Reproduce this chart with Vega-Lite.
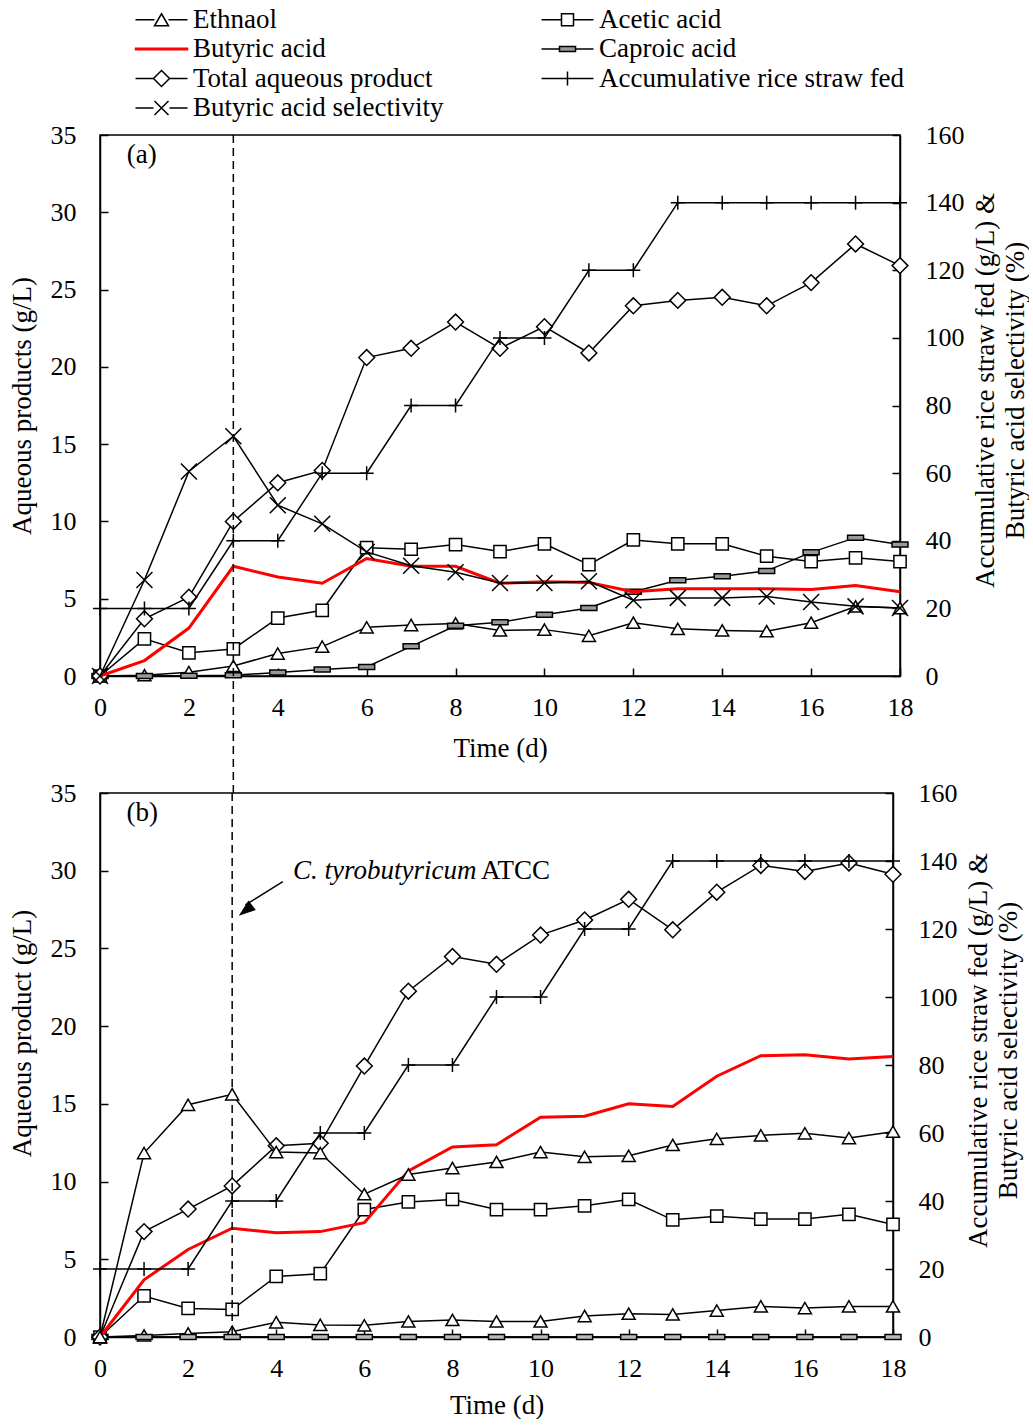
{
"$schema": "https://vega.github.io/schema/vega-lite/v6.json",
"background": "white",
"padding": {"left": 7, "top": 6, "right": 0, "bottom": 0},
"spacing": 117,
"bounds": "flush",
"config": {
  "font": "Liberation Serif",
  "view": {"stroke": "black", "strokeWidth": 1.5},
  "axis": {"labelFont": "Liberation Serif", "labelFontSize": 26, "labelColor": "black", "titleFont": "Liberation Serif", "titleFontSize": 27, "titleFontWeight": "normal", "titleColor": "black", "domainColor": "black", "domainWidth": 1.5, "tickColor": "black", "tickWidth": 1.5, "tickSize": -8, "grid": false, "labelFlush": false, "labelOverlap": false, "titleLineHeight": 30}
},
"datasets": {
  "a": [
    {"day":0,"Eth":0,"Ace":0,"But":0,"Cap":0,"Tot":0,"Straw":20,"Sel":0},
    {"day":1,"Eth":0.05,"Ace":2.4,"But":1.0,"Cap":0,"Tot":3.7,"Straw":20,"Sel":28.4},
    {"day":2,"Eth":0.25,"Ace":1.5,"But":3.1,"Cap":0.02,"Tot":5.1,"Straw":20,"Sel":60.5},
    {"day":3,"Eth":0.65,"Ace":1.75,"But":7.1,"Cap":0.05,"Tot":10.0,"Straw":40,"Sel":70.9},
    {"day":4,"Eth":1.45,"Ace":3.75,"But":6.4,"Cap":0.23,"Tot":12.5,"Straw":40,"Sel":50.5},
    {"day":5,"Eth":1.9,"Ace":4.25,"But":6.0,"Cap":0.42,"Tot":13.3,"Straw":60,"Sel":45.0},
    {"day":6,"Eth":3.15,"Ace":8.3,"But":7.6,"Cap":0.58,"Tot":20.6,"Straw":60,"Sel":36.7},
    {"day":7,"Eth":3.3,"Ace":8.2,"But":7.1,"Cap":1.92,"Tot":21.2,"Straw":80,"Sel":32.6},
    {"day":8,"Eth":3.4,"Ace":8.5,"But":7.1,"Cap":3.25,"Tot":22.9,"Straw":80,"Sel":30.7},
    {"day":9,"Eth":2.95,"Ace":8.05,"But":6.0,"Cap":3.47,"Tot":21.2,"Straw":100,"Sel":27.5},
    {"day":10,"Eth":3.0,"Ace":8.55,"But":6.1,"Cap":3.97,"Tot":22.6,"Straw":100,"Sel":27.5},
    {"day":11,"Eth":2.6,"Ace":7.2,"But":6.05,"Cap":4.4,"Tot":20.9,"Straw":120,"Sel":28.0},
    {"day":12,"Eth":3.45,"Ace":8.8,"But":5.45,"Cap":5.45,"Tot":23.95,"Straw":120,"Sel":22.4},
    {"day":13,"Eth":3.05,"Ace":8.55,"But":5.65,"Cap":6.2,"Tot":24.3,"Straw":140,"Sel":23.1},
    {"day":14,"Eth":2.95,"Ace":8.55,"But":5.65,"Cap":6.45,"Tot":24.5,"Straw":140,"Sel":23.1},
    {"day":15,"Eth":2.9,"Ace":7.75,"But":5.65,"Cap":6.8,"Tot":23.95,"Straw":140,"Sel":23.5},
    {"day":16,"Eth":3.45,"Ace":7.4,"But":5.6,"Cap":8.0,"Tot":25.45,"Straw":140,"Sel":21.9},
    {"day":17,"Eth":4.5,"Ace":7.65,"But":5.85,"Cap":8.95,"Tot":27.95,"Straw":140,"Sel":20.6},
    {"day":18,"Eth":4.4,"Ace":7.4,"But":5.45,"Cap":8.5,"Tot":26.55,"Straw":140,"Sel":20.1}
  ],
  "b": [
    {"day":0,"Eth":0,"Ace":0,"But":0,"Cap":0,"Tot":0,"Straw":20,"Sel":0},
    {"day":1,"Eth":0.1,"Ace":2.64,"But":3.68,"Cap":0,"Tot":6.78,"Straw":20,"Sel":54.1},
    {"day":2,"Eth":0.23,"Ace":1.84,"But":5.63,"Cap":0,"Tot":8.23,"Straw":20,"Sel":68.3},
    {"day":3,"Eth":0.34,"Ace":1.77,"But":7.0,"Cap":0,"Tot":9.72,"Straw":40,"Sel":71.4},
    {"day":4,"Eth":0.95,"Ace":3.9,"But":6.71,"Cap":0,"Tot":12.3,"Straw":40,"Sel":54.4},
    {"day":5,"Eth":0.78,"Ace":4.07,"But":6.78,"Cap":0,"Tot":12.46,"Straw":60,"Sel":54.1},
    {"day":6,"Eth":0.75,"Ace":8.2,"But":7.36,"Cap":0,"Tot":17.43,"Straw":60,"Sel":42.0},
    {"day":7,"Eth":1.0,"Ace":8.69,"But":10.69,"Cap":0,"Tot":22.25,"Straw":80,"Sel":47.8},
    {"day":8,"Eth":1.1,"Ace":8.85,"But":12.23,"Cap":0,"Tot":24.48,"Straw":80,"Sel":49.7},
    {"day":9,"Eth":1.0,"Ace":8.2,"But":12.37,"Cap":0,"Tot":23.98,"Straw":100,"Sel":51.5},
    {"day":10,"Eth":1.0,"Ace":8.2,"But":14.14,"Cap":0,"Tot":25.86,"Straw":100,"Sel":54.4},
    {"day":11,"Eth":1.35,"Ace":8.44,"But":14.2,"Cap":0,"Tot":26.83,"Straw":120,"Sel":53.0},
    {"day":12,"Eth":1.5,"Ace":8.85,"But":15.0,"Cap":0,"Tot":28.16,"Straw":120,"Sel":53.3},
    {"day":13,"Eth":1.45,"Ace":7.54,"But":14.83,"Cap":0,"Tot":26.2,"Straw":140,"Sel":56.5},
    {"day":14,"Eth":1.7,"Ace":7.77,"But":16.78,"Cap":0,"Tot":28.62,"Straw":140,"Sel":58.3},
    {"day":15,"Eth":1.97,"Ace":7.59,"But":18.1,"Cap":0,"Tot":30.34,"Straw":140,"Sel":59.3},
    {"day":16,"Eth":1.86,"Ace":7.59,"But":18.16,"Cap":0,"Tot":29.95,"Straw":140,"Sel":59.9},
    {"day":17,"Eth":1.97,"Ace":7.89,"But":17.89,"Cap":0,"Tot":30.5,"Straw":140,"Sel":58.5},
    {"day":18,"Eth":1.97,"Ace":7.24,"But":18.05,"Cap":0,"Tot":29.77,"Straw":140,"Sel":60.4}
  ]
},
"vconcat": [
  {
    "width": 800, "height": 541,
    "data": {"name": "a"},
    "layer": [
      {
        "layer": [
          {"mark": {"type": "line", "color": "black", "strokeWidth": 1.5, "point": {"shape": "triangle-up", "size": 170, "filled": true, "fill": "white", "stroke": "black", "strokeWidth": 1.5}},
           "encoding": {"x": {"field": "day", "type": "quantitative", "scale": {"domain": [0, 18], "nice": false}, "axis": {"values": [0,2,4,6,8,10,12,14,16,18], "title": "Time (d)", "labelPadding": 26, "titlePadding": 15}},
                        "y": {"field": "Eth", "type": "quantitative", "scale": {"domain": [0, 35], "nice": false}, "axis": {"values": [0,5,10,15,20,25,30,35], "title": "Aqueous products (g/L)", "labelPadding": 32, "titlePadding": 14}}}},
          {"mark": {"type": "line", "color": "black", "strokeWidth": 1.5, "point": {"shape": "square", "size": 150, "filled": true, "fill": "white", "stroke": "black", "strokeWidth": 1.5}},
           "encoding": {"x": {"field": "day", "type": "quantitative"}, "y": {"field": "Ace", "type": "quantitative"}}},
          {"mark": {"type": "line", "color": "black", "strokeWidth": 1.5, "point": {"shape": "M-8,-2.5H8V2.5H-8Z", "size": 4, "filled": true, "fill": "#999999", "stroke": "black", "strokeWidth": 1.5}},
           "encoding": {"x": {"field": "day", "type": "quantitative"}, "y": {"field": "Cap", "type": "quantitative"}}},
          {"mark": {"type": "line", "color": "black", "strokeWidth": 1.5, "point": {"shape": "diamond", "size": 250, "filled": true, "fill": "white", "stroke": "black", "strokeWidth": 1.5}},
           "encoding": {"x": {"field": "day", "type": "quantitative"}, "y": {"field": "Tot", "type": "quantitative"}}},
          {"mark": {"type": "line", "color": "#ff0000", "strokeWidth": 3},
           "encoding": {"x": {"field": "day", "type": "quantitative"}, "y": {"field": "But", "type": "quantitative"}}},
          {"data": {"values": [{"note": "inoculation"}]},
           "mark": {"type": "rule", "color": "black", "strokeWidth": 1.5, "strokeDash": [8, 5]},
           "encoding": {"x": {"datum": 3, "type": "quantitative"}, "y": {"datum": 35, "type": "quantitative"}, "y2": {"datum": -7.6}}},
          {"data": {"values": [{"note": "panel"}]},
           "mark": {"type": "text", "align": "left", "baseline": "middle", "font": "Liberation Serif", "fontSize": 27, "color": "black"},
           "encoding": {"x": {"datum": 0.6, "type": "quantitative"}, "y": {"datum": 33.7, "type": "quantitative"}, "text": {"value": "(a)"}}}
        ]
      },
      {
        "layer": [
          {"mark": {"type": "line", "color": "black", "strokeWidth": 1.5, "point": {"shape": "M-7,0H7M0,-7V7", "size": 4, "filled": false, "stroke": "black", "strokeWidth": 1.5}},
           "encoding": {"x": {"field": "day", "type": "quantitative"}, "y": {"field": "Straw", "type": "quantitative", "scale": {"domain": [0, 160], "nice": false}, "axis": {"orient": "right", "values": [0,20,40,60,80,100,120,140,160], "title": ["Accumulative rice straw fed (g/L) &", "Butyric acid selectivity (%)"], "titleAngle": 270, "titleY": 255, "labelPadding": 33, "titlePadding": 5}}}},
          {"mark": {"type": "line", "color": "black", "strokeWidth": 1.5, "point": {"shape": "M-8,-8L8,8M-8,8L8,-8", "size": 4, "filled": false, "stroke": "black", "strokeWidth": 1.5}},
           "encoding": {"x": {"field": "day", "type": "quantitative"}, "y": {"field": "Sel", "type": "quantitative"}}}
        ]
      },
      {
        "data": {"values": [{"series": "Ethnaol"}, {"series": "Acetic acid"}, {"series": "Butyric acid"}, {"series": "Caproic acid"}, {"series": "Total aqueous product"}, {"series": "Accumulative rice straw fed"}, {"series": "Butyric acid selectivity"}]},
        "mark": {"type": "point", "opacity": 0},
        "encoding": {
          "shape": {"field": "series", "type": "nominal",
            "scale": {"domain": ["Ethnaol", "Butyric acid", "Total aqueous product", "Butyric acid selectivity", "Acetic acid", "Caproic acid", "Accumulative rice straw fed"],
                      "range": ["M-26,0H-7M7,0H26M0,-6L7,6H-7Z", "M-26,-0.75H26V0.75H-26Z", "M-26,0H-8M8,0H26M0,-8L8,0L0,8L-8,0Z", "M-26,0H-8M8,0H26M-7,-7L7,7M-7,7L7,-7", "M-26,0H-6M6,0H26M-6,-6H6V6H-6Z", "M-26,0H-8M8,0H26M-8,-2.5H8V2.5H-8Z", "M-26,0H26M0,-7V7"]},
            "legend": {"orient": "none", "legendX": 48, "legendY": -129, "columns": 2, "columnPadding": 94, "rowPadding": 1.5, "symbolSize": 4, "symbolStrokeWidth": 1.5, "symbolOpacity": 1, "labelFont": "Liberation Serif", "labelFontSize": 27, "labelColor": "black", "labelOffset": 18, "labelLimit": 0, "title": null}},
          "stroke": {"field": "series", "type": "nominal",
            "scale": {"domain": ["Ethnaol", "Butyric acid", "Total aqueous product", "Butyric acid selectivity", "Acetic acid", "Caproic acid", "Accumulative rice straw fed"],
                      "range": ["black", "#ff0000", "black", "black", "black", "black", "black"]}},
          "fill": {"field": "series", "type": "nominal",
            "scale": {"domain": ["Ethnaol", "Butyric acid", "Total aqueous product", "Butyric acid selectivity", "Acetic acid", "Caproic acid", "Accumulative rice straw fed"],
                      "range": ["white", "#ff0000", "white", "white", "white", "#999999", "white"]}}
        }
      }
    ],
    "resolve": {"scale": {"y": "independent"}}
  },
  {
    "width": 793, "height": 544,
    "data": {"name": "b"},
    "layer": [
      {
        "layer": [
          {"mark": {"type": "line", "color": "black", "strokeWidth": 1.5, "point": {"shape": "triangle-up", "size": 170, "filled": true, "fill": "white", "stroke": "black", "strokeWidth": 1.5}},
           "encoding": {"x": {"field": "day", "type": "quantitative", "scale": {"domain": [0, 18], "nice": false}, "axis": {"values": [0,2,4,6,8,10,12,14,16,18], "title": "Time (d)", "labelPadding": 26, "titlePadding": 11}},
                        "y": {"field": "Eth", "type": "quantitative", "scale": {"domain": [0, 35], "nice": false}, "axis": {"values": [0,5,10,15,20,25,30,35], "title": "Aqueous product (g/L)", "titleY": 240, "labelPadding": 32, "titlePadding": 14}}}},
          {"mark": {"type": "line", "color": "black", "strokeWidth": 1.5, "point": {"shape": "square", "size": 150, "filled": true, "fill": "white", "stroke": "black", "strokeWidth": 1.5}},
           "encoding": {"x": {"field": "day", "type": "quantitative"}, "y": {"field": "Ace", "type": "quantitative"}}},
          {"mark": {"type": "line", "color": "black", "strokeWidth": 1.5, "point": {"shape": "M-8,-2.5H8V2.5H-8Z", "size": 4, "filled": true, "fill": "#bbbbbb", "stroke": "black", "strokeWidth": 1.5}},
           "encoding": {"x": {"field": "day", "type": "quantitative"}, "y": {"field": "Cap", "type": "quantitative"}}},
          {"mark": {"type": "line", "color": "black", "strokeWidth": 1.5, "point": {"shape": "diamond", "size": 250, "filled": true, "fill": "white", "stroke": "black", "strokeWidth": 1.5}},
           "encoding": {"x": {"field": "day", "type": "quantitative"}, "y": {"field": "Tot", "type": "quantitative"}}},
          {"mark": {"type": "line", "color": "#ff0000", "strokeWidth": 3},
           "encoding": {"x": {"field": "day", "type": "quantitative"}, "y": {"field": "But", "type": "quantitative"}}},
          {"data": {"values": [{"note": "inoculation"}]},
           "mark": {"type": "rule", "color": "black", "strokeWidth": 1.5, "strokeDash": [8, 5]},
           "encoding": {"x": {"datum": 3, "type": "quantitative"}, "y": {"datum": 35, "type": "quantitative"}, "y2": {"datum": 0}}},
          {"data": {"values": [{"note": "arrow"}]},
           "mark": {"type": "rule", "color": "black", "strokeWidth": 1.5},
           "encoding": {"x": {"datum": 4.15, "type": "quantitative"}, "y": {"datum": 29.3, "type": "quantitative"}, "x2": {"datum": 3.3}, "y2": {"datum": 27.8}}},
          {"data": {"values": [{"note": "arrowhead"}]},
           "mark": {"type": "point", "shape": "M0,0L6,17L-6,17Z", "size": 4, "filled": true, "color": "black", "angle": 232, "opacity": 1},
           "encoding": {"x": {"datum": 3.15, "type": "quantitative"}, "y": {"datum": 27.1, "type": "quantitative"}}},
          {"data": {"values": [{"note": "label"}]},
           "mark": {"type": "text", "align": "left", "baseline": "middle", "font": "Liberation Serif", "fontSize": 27, "fontStyle": "italic", "color": "black"},
           "encoding": {"x": {"datum": 4.38, "type": "quantitative"}, "y": {"datum": 30.0, "type": "quantitative"}, "text": {"value": "C. tyrobutyricum"}}},
          {"data": {"values": [{"note": "label"}]},
           "mark": {"type": "text", "align": "left", "baseline": "middle", "font": "Liberation Serif", "fontSize": 27, "color": "black"},
           "encoding": {"x": {"datum": 8.65, "type": "quantitative"}, "y": {"datum": 30.0, "type": "quantitative"}, "text": {"value": "ATCC"}}},
          {"data": {"values": [{"note": "panel"}]},
           "mark": {"type": "text", "align": "left", "baseline": "middle", "font": "Liberation Serif", "fontSize": 27, "color": "black"},
           "encoding": {"x": {"datum": 0.6, "type": "quantitative"}, "y": {"datum": 33.7, "type": "quantitative"}, "text": {"value": "(b)"}}}
        ]
      },
      {
        "layer": [
          {"mark": {"type": "line", "color": "black", "strokeWidth": 1.5, "point": {"shape": "M-7,0H7M0,-7V7", "size": 4, "filled": false, "stroke": "black", "strokeWidth": 1.5}},
           "encoding": {"x": {"field": "day", "type": "quantitative"}, "y": {"field": "Straw", "type": "quantitative", "scale": {"domain": [0, 160], "nice": false}, "axis": {"orient": "right", "values": [0,20,40,60,80,100,120,140,160], "title": ["Accumulative rice straw fed (g/L) &", "Butyric acid selectivity (%)"], "titleAngle": 270, "titleY": 257, "labelPadding": 33, "titlePadding": 5}}}},
          {"mark": {"type": "line", "color": "black", "strokeWidth": 1.5, "point": {"shape": "triangle-up", "size": 170, "filled": true, "fill": "white", "stroke": "black", "strokeWidth": 1.5}},
           "encoding": {"x": {"field": "day", "type": "quantitative"}, "y": {"field": "Sel", "type": "quantitative"}}}
        ]
      }
    ],
    "resolve": {"scale": {"y": "independent"}}
  }
]
}
